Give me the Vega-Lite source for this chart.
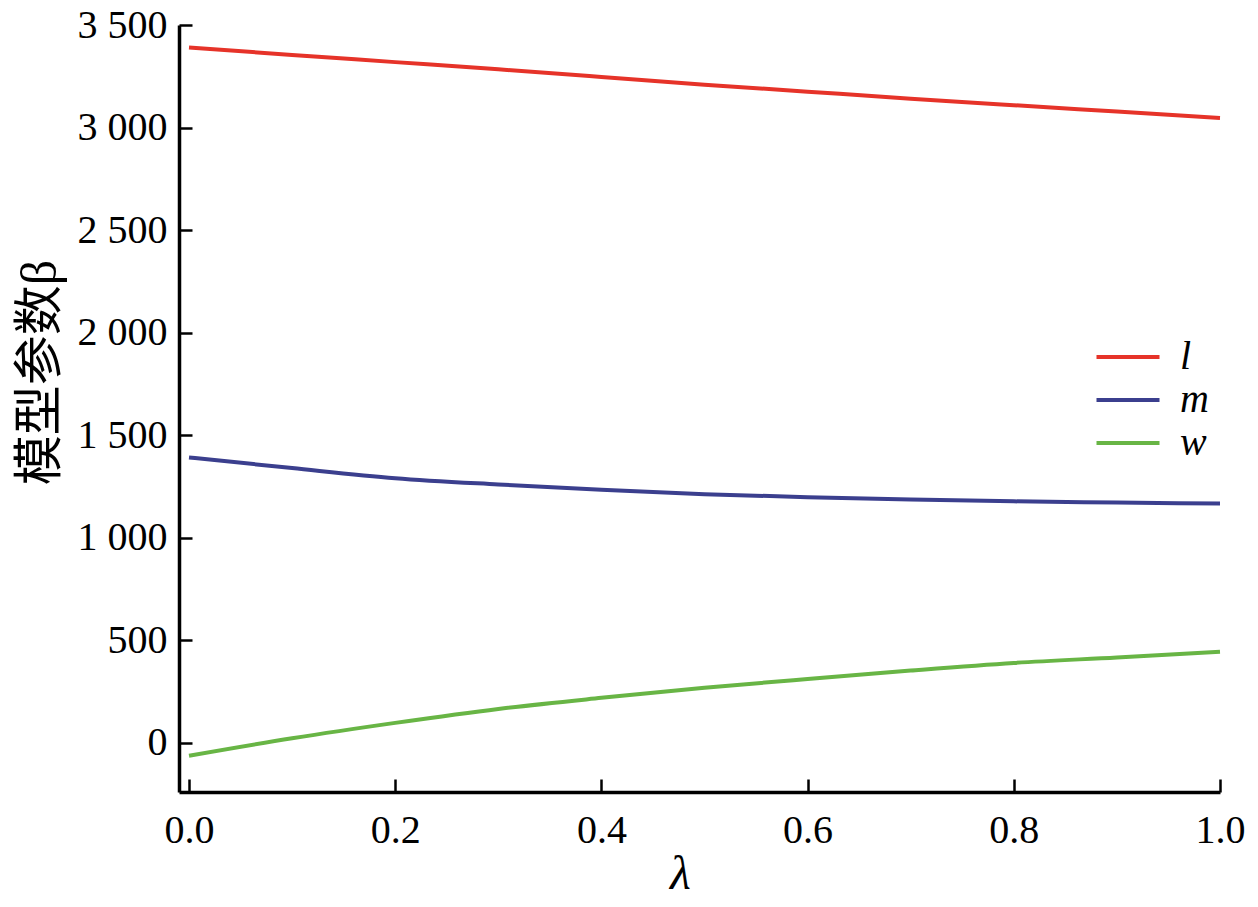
{
  "$schema": "https://vega.github.io/schema/vega-lite/v6.json",
  "width": 1041,
  "height": 767,
  "autosize": {"type": "none"},
  "padding": {"left": 179, "top": 25, "right": 38, "bottom": 115},
  "background": "white",
  "config": {"view": {"stroke": null}},
  "data": {
    "values": [
      {"lambda": 0.0, "series": "l", "value": 3390},
      {"lambda": 0.1, "series": "l", "value": 3354},
      {"lambda": 0.2, "series": "l", "value": 3319},
      {"lambda": 0.3, "series": "l", "value": 3284},
      {"lambda": 0.4, "series": "l", "value": 3247},
      {"lambda": 0.5, "series": "l", "value": 3209},
      {"lambda": 0.6, "series": "l", "value": 3175},
      {"lambda": 0.7, "series": "l", "value": 3141},
      {"lambda": 0.8, "series": "l", "value": 3109},
      {"lambda": 0.9, "series": "l", "value": 3078},
      {"lambda": 1.0, "series": "l", "value": 3047},
      {"lambda": 0.0, "series": "m", "value": 1392},
      {"lambda": 0.1, "series": "m", "value": 1340},
      {"lambda": 0.2, "series": "m", "value": 1291},
      {"lambda": 0.3, "series": "m", "value": 1260},
      {"lambda": 0.4, "series": "m", "value": 1234},
      {"lambda": 0.5, "series": "m", "value": 1213},
      {"lambda": 0.6, "series": "m", "value": 1198},
      {"lambda": 0.7, "series": "m", "value": 1187},
      {"lambda": 0.8, "series": "m", "value": 1178},
      {"lambda": 0.9, "series": "m", "value": 1172},
      {"lambda": 1.0, "series": "m", "value": 1167},
      {"lambda": 0.0, "series": "w", "value": -62},
      {"lambda": 0.1, "series": "w", "value": 23},
      {"lambda": 0.2, "series": "w", "value": 98},
      {"lambda": 0.3, "series": "w", "value": 166},
      {"lambda": 0.4, "series": "w", "value": 220},
      {"lambda": 0.5, "series": "w", "value": 269},
      {"lambda": 0.6, "series": "w", "value": 312},
      {"lambda": 0.7, "series": "w", "value": 353},
      {"lambda": 0.8, "series": "w", "value": 390},
      {"lambda": 0.9, "series": "w", "value": 417},
      {"lambda": 1.0, "series": "w", "value": 445}
    ]
  },
  "mark": {"type": "line", "strokeWidth": 4, "interpolate": "monotone"},
  "encoding": {
    "x": {
      "field": "lambda",
      "type": "quantitative",
      "scale": {"domain": [-0.0097, 1.0], "nice": false, "zero": false},
      "axis": {
        "title": "λ",
        "titleFont": "Liberation Serif",
        "titleFontSize": 48,
        "titleFontStyle": "italic",
        "titleFontWeight": "normal",
        "titleColor": "black",
        "titleX": 501,
        "titleY": 96,
        "titleAlign": "center",
        "titleBaseline": "alphabetic",
        "values": [0, 0.2, 0.4, 0.6, 0.8, 1.0],
        "format": ".1f",
        "labelFont": "Liberation Serif",
        "labelFontSize": 40,
        "labelColor": "black",
        "labelPadding": 31,
        "labelFlush": false,
        "labelOverlap": false,
        "tickSize": -13,
        "tickWidth": 2.5,
        "tickColor": "black",
        "domainColor": "black",
        "domainWidth": 3.5,
        "grid": false
      }
    },
    "y": {
      "field": "value",
      "type": "quantitative",
      "scale": {"domain": [-239, 3500], "nice": false, "zero": false},
      "axis": {
        "title": "模型参数β",
        "titleFont": "Liberation Serif, Noto Sans CJK SC",
        "titleFontSize": 50,
        "titleFontWeight": "normal",
        "titleColor": "black",
        "titleAngle": -90,
        "titleX": -139,
        "titleY": 347,
        "titleAlign": "center",
        "titleBaseline": "middle",
        "values": [0, 500, 1000, 1500, 2000, 2500, 3000, 3500],
        "labelExpr": "replace(format(datum.value, ','), ',', ' ')",
        "labelFont": "Liberation Serif",
        "labelFontSize": 40,
        "labelColor": "black",
        "labelPadding": 25,
        "labelFlush": false,
        "labelOverlap": false,
        "tickSize": -13,
        "tickWidth": 2.5,
        "tickColor": "black",
        "domainColor": "black",
        "domainWidth": 3.5,
        "grid": false
      }
    },
    "color": {
      "field": "series",
      "type": "nominal",
      "scale": {"domain": ["l", "m", "w"], "range": ["#e63329", "#3b3f8e", "#68b545"]},
      "legend": {
        "title": null,
        "orient": "none",
        "legendX": 929,
        "legendY": 312,
        "symbolType": "M-3,0L3,0",
        "symbolSize": 441,
        "symbolStrokeWidth": 4,
        "labelFont": "Liberation Serif",
        "labelFontStyle": "italic",
        "labelFontSize": 40,
        "labelColor": "black",
        "labelOffset": 32,
        "rowPadding": 3,
        "padding": 0
      }
    }
  }
}
